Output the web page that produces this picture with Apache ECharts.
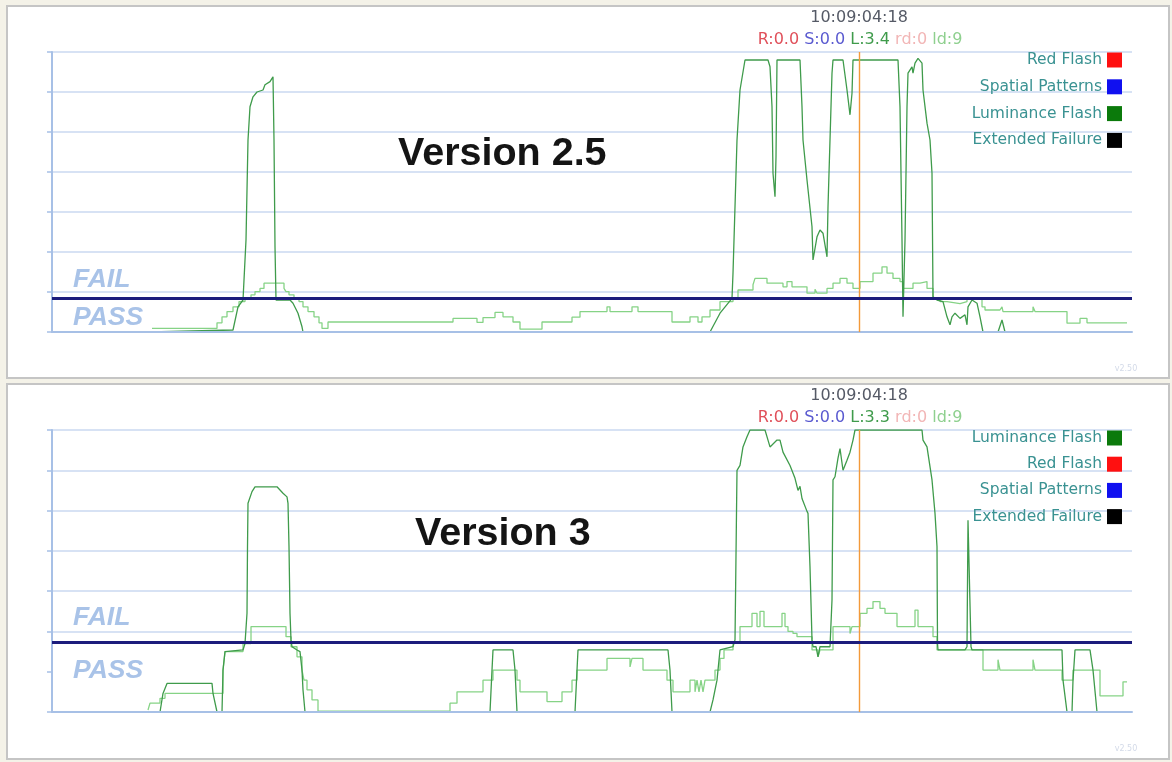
<!doctype html>
<html>
<head>
<meta charset="utf-8">
<script src="https://cdn.jsdelivr.net/npm/echarts@6/dist/echarts.min.js"></script>
<style>
  html, body { margin: 0; padding: 0; background: #f4f2e8; }
  #main { width: 1172px; height: 762px; }
</style>
</head>
<body>
<div id="main"></div>
<script type="text/javascript">
// frame number -> PSE level
// "avg" is the light stepped trace, "peak" the dark one
var p1Avg = [[100,0.09],[165,0.23],[170,0.38],[175,0.51],[181,0.63],[187,0.76],[193,0.84],[199,0.93],[203,1.01],[208,1.09],[212,1.22],[232,1.09],[234,1.01],[237,0.93],[242,0.84],[247,0.76],[251,0.63],[256,0.51],[262,0.38],[267,0.23],[270,0.09],[276,0.25],
  [401,0.34],[425,0.24],[431,0.36],[443,0.49],[451,0.38],[461,0.25],[468,0.07],[490,0.25],[520,0.37],[528,0.51],[555,0.63],[558,0.51],[580,0.63],[586,0.51],[620,0.25],[638,0.38],[646,0.25],[650,0.38],[658,0.55],[668,0.76],[681,0.84],[686,1.05],[701,1.18],[703,1.34],[715,1.22],[731,1.13],[735,1.26],[740,1.13],[755,0.97],[763,1.07],[765,0.97],[775,1.09],[781,1.22],[788,1.34],[795,1.22],[801,1.09],[808,1.26],[821,1.47],[830,1.63],[835,1.47],[841,1.34],[848,1.26],[851,1.09],[861,1.22],[868,1.26],[875,1.09],[881,0.84],[888,0.76],[895,0.71],[908,0.76],[915,0.84],[930,0.63],[933,0.55],[948,0.51],[950,0.63],[951,0.51],[981,0.63],[983,0.51],[1015,0.22],[1028,0.34],[1035,0.23],[1075,0.23]];

var p1Peak = [[99,0],[181,0.05],[186,0.63],[191,0.8],[194,2.3],[196,4.8],[198,5.63],[201,5.88],[205,6.0],[211,6.05],[213,6.18],[218,6.26],[221,6.38],[222,4.8],[223,2.13],[224,0.8],[238,0.8],[241,0.72],[246,0.47],[250,0.13],[251,0],
  [658,0],[668,0.47],[680,0.84],[681,1.47],[683,3.13],[685,4.8],[688,6.05],[693,6.8],[716,6.8],[718,6.63],[720,5.63],[721,3.97],[723,3.38],[724,4.38],[725,6.8],[748,6.8],[750,5.63],[751,4.8],[755,3.8],[760,2.63],[761,1.8],[765,2.38],[768,2.55],[771,2.47],[775,1.88],[776,3.13],[778,4.8],[780,6.47],[781,6.8],[791,6.8],[795,6.05],[798,5.43],[800,5.97],[801,6.8],[846,6.8],[848,5.63],[850,2.3],[851,0.38],[853,2.3],[855,5.63],[856,6.47],[860,6.63],[861,6.47],[863,6.72],[866,6.84],[870,6.72],[871,6.05],[875,5.22],[878,4.8],[880,3.97],[881,0.88],[885,0.8],[891,0.76],[895,0.38],[898,0.18],[900,0.38],[903,0.47],[908,0.34],[913,0.43],[915,0.18],[916,0.63],[920,0.8],[925,0.72],[928,0.38],[931,0],[946,0],[950,0.3],[953,0],[1075,0]];

var p2Avg = [[96,0.05],[98,0.22],[108,0.34],[113,0.46],[171,1.04],[173,1.5],[191,1.7],[199,2.12],[234,1.87],[239,1.62],[245,1.37],[250,1.04],[252,0.79],[255,0.55],[260,0.3],[266,0.02],
  [398,0.22],[405,0.5],[431,0.79],[441,1.04],[465,0.79],[468,0.5],[495,0.26],[510,0.5],[520,0.79],[525,1.04],[555,1.33],[578,1.12],[580,1.33],[591,1.04],[615,0.79],[621,0.5],[638,0.79],[643,0.5],[645,0.79],[647,0.5],[649,0.79],[651,0.5],[653,0.79],[663,1.04],[668,1.33],[672,1.54],[681,1.74],[688,2.12],[700,2.45],[705,2.12],[708,2.5],[712,2.12],[730,2.45],[733,2.12],[736,2.0],[741,1.95],[745,1.87],[760,1.54],[766,1.37],[768,1.54],[781,2.12],[798,1.95],[800,2.12],[808,2.45],[815,2.57],[821,2.74],[828,2.57],[833,2.45],[845,2.12],[863,2.53],[866,2.12],[881,1.87],[885,1.54],[931,1.04],[946,1.3],[948,1.04],[981,1.3],[983,1.04],[1010,0.79],[1021,1.04],[1048,0.4],[1071,0.75],[1075,0.75]];

var p2Peak = [[96,0],[108,0],[111,0.46],[115,0.71],[160,0.71],[161,0.46],[165,0],[170,0],[171,1.04],[173,1.5],[191,1.54],[193,1.7],[195,2.45],[195.5,4.1],[196,5.18],[200,5.47],[203,5.59],[225,5.59],[228,5.51],[231,5.43],[235,5.34],[236,5.18],[237,4.1],[238,2.45],[239,1.79],[240,1.62],[245,1.54],[248,1.5],[250,1.04],[251,0.55],[253,0],
  [438,0],[440,1.04],[441,1.54],[461,1.54],[463,1.04],[465,0],[523,0],[525,1.04],[526,1.54],[616,1.54],[618,1.04],[620,0],[658,0],[661,0.3],[665,0.79],[668,1.54],[681,1.62],[683,1.79],[685,6.0],[688,6.12],[691,6.58],[695,6.83],[698,7.0],[713,7.0],[716,6.75],[718,6.58],[725,6.75],[728,6.75],[731,6.45],[738,6.12],[743,5.8],[746,5.5],[748,5.6],[750,5.3],[755,4.98],[756,4.93],[758,3.6],[760,1.79],[761,1.62],[764,1.62],[766,1.37],[768,1.62],[778,1.62],[780,2.78],[781,5.76],[783,5.84],[786,6.3],[788,6.54],[791,6.0],[795,6.25],[798,6.45],[801,6.75],[803,7.0],[870,7.0],[871,6.75],[875,6.58],[880,5.76],[883,4.93],[885,4.1],[885.5,1.7],[886,1.54],[913,1.54],[915,1.62],[916,4.76],[917,4.76],[919,1.62],[920,1.54],[1010,1.54],[1011,0.79],[1015,0],[1020,0],[1021,0.79],[1023,1.54],[1038,1.54],[1041,1.04],[1045,0],[1075,0]];

var failLevel = [0.85, 1.74];   // pass / fail threshold of each run
var cursorFrame = 807;          // frame 10:09:04:18
var cursorTime = '10:09:04:18';
var readout = [
  {r: '0.0', s: '0.0', l: '3.4', rd: '0', ld: '9'},
  {r: '0.0', s: '0.0', l: '3.3', rd: '0', ld: '9'}
];
var versions = ['Version 2.5', 'Version 3'];
var legendOrder = [
  ['Red Flash', 'Spatial Patterns', 'Luminance Flash', 'Extended Failure'],
  ['Luminance Flash', 'Red Flash', 'Spatial Patterns', 'Extended Failure']
];
var legendColors = {
  'Red Flash': '#ff1010',
  'Spatial Patterns': '#1010f0',
  'Luminance Flash': '#0b7a0b',
  'Extended Failure': '#000000'
};

var axisBlue = '#a7c0e6';
var gridBlue = '#cad8f1';
var darkGreen = '#3f9b4b';
var lightGreen = '#86d386';
var cursorOrange = '#f39a3a';

var myChart = echarts.init(document.getElementById('main'));

var grids = [
  {left: 52, top: 52, width: 1080, height: 280},
  {left: 52, top: 430, width: 1080, height: 282}
];
var panelTop = [6, 384];

function makeXAxis(i) {
  return {
    type: 'value', gridIndex: i, min: 0, max: 1080, z: 3,
    axisLine: {show: true, lineStyle: {color: axisBlue, width: 2}},
    axisTick: {show: false}, axisLabel: {show: false}, splitLine: {show: false}
  };
}
function makeYAxis(i) {
  // lower run has no grid line at level 1
  var colors = i === 0 ? [gridBlue]
    : ['transparent', 'transparent', gridBlue, gridBlue, gridBlue, gridBlue, gridBlue, gridBlue];
  return {
    type: 'value', gridIndex: i, min: 0, max: 7, interval: 1,
    axisLine: {show: true, lineStyle: {color: axisBlue, width: 2}},
    axisTick: {show: true, length: 5, lineStyle: {color: axisBlue, width: 1.5}},
    axisLabel: {show: false},
    splitLine: {show: true, showMinLine: true, lineStyle: {color: colors, width: 1.5}}
  };
}

function panelSeries(i, avg, peak) {
  var empty = function (name) {
    return {
      name: name, type: 'line', xAxisIndex: i, yAxisIndex: i, data: [],
      symbol: 'none', itemStyle: {color: legendColors[name]}, lineStyle: {color: legendColors[name]}
    };
  };
  return [
    empty('Red Flash'),
    empty('Spatial Patterns'),
    {
      name: 'Luminance Average', type: 'line', xAxisIndex: i, yAxisIndex: i,
      data: avg, step: 'end', symbol: 'none', z: 2,
      lineStyle: {color: lightGreen, width: 1.3}, itemStyle: {color: lightGreen},
      markLine: {
        silent: true, symbol: ['none', 'none'], label: {show: false}, animation: false,
        lineStyle: {color: cursorOrange, width: 1.4, type: 'solid', opacity: 1},
        emphasis: {disabled: true},
        data: [{xAxis: cursorFrame}]
      }
    },
    {
      name: 'Luminance Flash', type: 'line', xAxisIndex: i, yAxisIndex: i,
      data: peak, symbol: 'none', z: 2,
      lineStyle: {color: darkGreen, width: 1.3}, itemStyle: {color: darkGreen},
      markLine: {
        silent: true, symbol: ['none', 'none'], label: {show: false}, animation: false,
        lineStyle: {color: '#1c1c7c', width: 3, type: 'solid', opacity: 1},
        data: [{yAxis: failLevel[i]}]
      }
    },
    empty('Extended Failure')
  ];
}

function makeLegend(i) {
  return {
    data: legendOrder[i].map(function (n) { return {name: n, itemStyle: {color: legendColors[n]}}; }),
    orient: 'vertical', align: 'right', icon: 'rect',
    right: 50, top: grids[i].top, padding: 0,
    itemWidth: 15, itemHeight: 15, itemGap: i === 0 ? 10.8 : 10.2, selectedMode: false,
    textStyle: {color: '#3a9292', fontSize: 15.5, fontFamily: 'DejaVu Sans', lineHeight: 15}
  };
}

var graphics = [];
[0, 1].forEach(function (i) {
  var t = panelTop[i];
  var g = grids[i];
  graphics.push({
    type: 'rect', z: -10, silent: true,
    shape: {x: 7, y: t, width: 1162, height: i === 0 ? 372 : 375},
    style: {fill: '#ffffff', stroke: '#c5c5c5', lineWidth: 2}
  });
  graphics.push({
    type: 'text', z: 10, x: 859, y: t + 12,
    style: {text: cursorTime, align: 'center', verticalAlign: 'middle',
      fontSize: 16, fontFamily: 'DejaVu Sans', fill: '#555a66'}
  });
  var r = readout[i];
  graphics.push({
    type: 'text', z: 10, x: 860, y: t + 34,
    style: {
      text: '{r|R:' + r.r + '} {s|S:' + r.s + '} {l|L:' + r.l + '} {rd|rd:' + r.rd + '} {ld|ld:' + r.ld + '}',
      align: 'center', verticalAlign: 'middle', fontSize: 16, fontFamily: 'DejaVu Sans',
      rich: {
        r: {fill: '#e0505a', fontSize: 16, fontFamily: 'DejaVu Sans'},
        s: {fill: '#5a5ad0', fontSize: 16, fontFamily: 'DejaVu Sans'},
        l: {fill: '#3f9b4b', fontSize: 16, fontFamily: 'DejaVu Sans'},
        rd: {fill: '#f2b6b6', fontSize: 16, fontFamily: 'DejaVu Sans'},
        ld: {fill: '#8fd08f', fontSize: 16, fontFamily: 'DejaVu Sans'}
      }
    }
  });
  graphics.push({
    type: 'text', z: 10, x: i === 0 ? 398 : 415, y: i === 0 ? 154 : 534,
    style: {text: versions[i], verticalAlign: 'middle', fill: '#141414',
      fontSize: 39.5, fontWeight: 'bold', fontFamily: 'Liberation Sans'}
  });
  var yFail = i === 0 ? 280 : 618;
  var yPass = i === 0 ? 318 : 671;
  [['FAIL', yFail], ['PASS', yPass]].forEach(function (p) {
    graphics.push({
      type: 'text', z: 10, x: 73, y: p[1],
      style: {text: p[0], verticalAlign: 'middle', fill: '#a9c3e8',
        fontSize: 26.5, fontWeight: 'bold', fontStyle: 'italic', fontFamily: 'Liberation Sans'}
    });
  });
  graphics.push({
    type: 'text', z: 10, x: 1126, y: g.top + g.height + 37,
    style: {text: 'v2.50', align: 'center', verticalAlign: 'middle', fill: '#d3dae8',
      fontSize: 8, fontFamily: 'DejaVu Sans'}
  });
});

var option = {
  backgroundColor: '#f4f2e8',
  animation: false,
  grid: grids,
  xAxis: [makeXAxis(0), makeXAxis(1)],
  yAxis: [makeYAxis(0), makeYAxis(1)],
  legend: [makeLegend(0), makeLegend(1)],
  graphic: graphics,
  series: panelSeries(0, p1Avg, p1Peak).concat(panelSeries(1, p2Avg, p2Peak))
};

myChart.setOption(option);
</script>
</body>
</html>
